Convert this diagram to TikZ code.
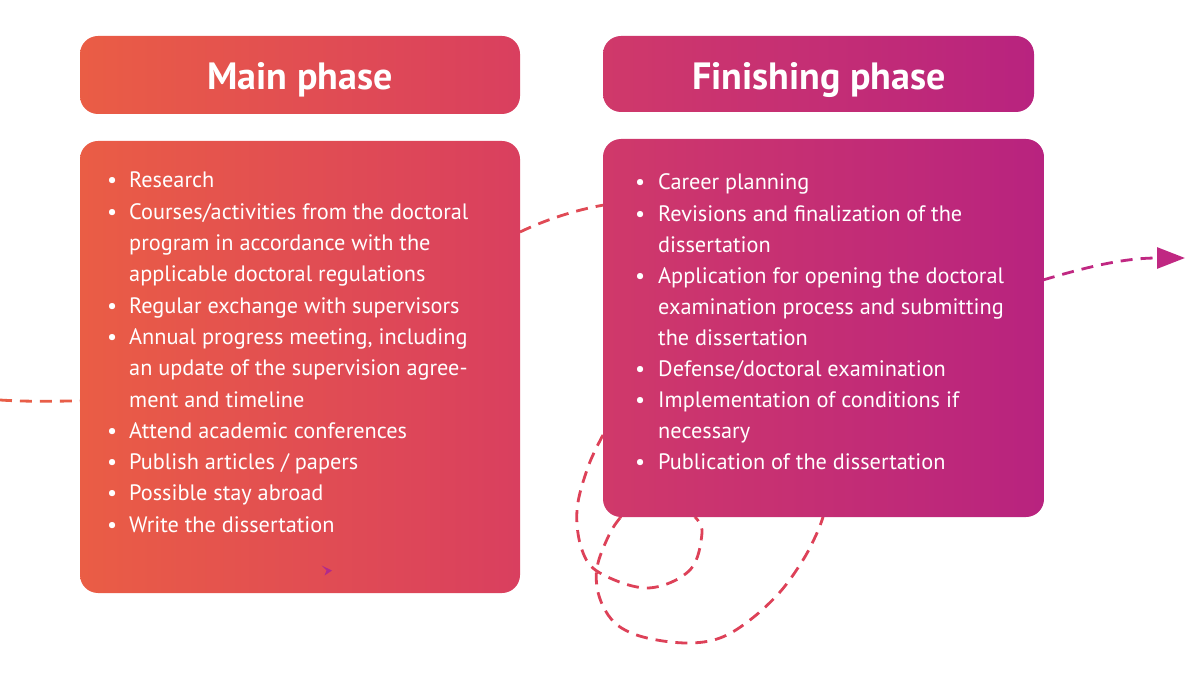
\documentclass[tikz,border=0pt]{standalone}
\usepackage{fontspec}
\setmainfont{PT Sans}
\usetikzlibrary{arrows.meta}
\definecolor{mA}{HTML}{EA5D45}
\definecolor{mB}{HTML}{D93F5F}
\definecolor{fA}{HTML}{D0396A}
\definecolor{fB}{HTML}{B8237F}
\definecolor{dashA}{HTML}{E85E48}
\definecolor{dashB}{HTML}{E04A55}
\definecolor{dashC}{HTML}{DD4158}
\definecolor{dashD}{HTML}{C02882}
\definecolor{tipP}{HTML}{B02A8C}
\begin{document}
\begin{tikzpicture}[x=1pt,y=-1pt,
  panel/.style={rounded corners=18pt, inner sep=0pt, outer sep=0pt, anchor=north west},
  mainfill/.style={left color=mA, right color=mB},
  finfill/.style={left color=fA, right color=fB},
  headtext/.style={text=white, font=\fontsize{38}{42}\selectfont\bfseries, anchor=base, inner sep=0pt},
  listtext/.style={text=white, anchor=base west, inner sep=0pt},
  route/.style={line width=2.8pt, dash pattern=on 12pt off 8pt},
]
\useasboundingbox (0,0) rectangle (1200,676);

% route coordinates
\coordinate (s)  at (0,400);
\coordinate (p1) at (80,401);
\coordinate (p2) at (520,232);
\coordinate (p3) at (604,205);
\coordinate (p4) at (603,435);
\coordinate (p5) at (695,517);
\coordinate (p6) at (620,518);
\coordinate (p7) at (823,517);
\coordinate (p8) at (1043,280);
\coordinate (e)  at (1185,258);

% dashed route (drawn beneath the panels)
\draw[route, dashA] (s) .. controls (30,402) and (55,401) .. (p1);
\draw[route, dashB] (p1) .. controls (300,400) and (380,260) .. (p2);
\draw[route, dashB] (p2) .. controls (545,220) and (575,210) .. (p3);
\draw[route, dashC] (p3) .. controls (700,180) and (640,380) .. (p4);
\draw[route, dashC] plot[smooth, tension=0.6] coordinates {(603,435) (588,467) (577,510) (582,550) (600,573) (648,588) (690,570) (702,533) (695,517)};
\draw[route, dashC] (p5) .. controls (690,490) and (630,490) .. (p6);
\draw[route, dashC] plot[smooth, tension=0.6] coordinates {(620,518) (610,533) (598,563) (597,587) (605,610) (620,627) (647,638) (687,643) (720,638) (750,620) (780,592) (803,560) (817,533) (823,517)};
\draw[route, dashD] (p7) .. controls (850,420) and (950,300) .. (p8);
\draw[route, dashD, -{Triangle[length=28pt,width=21pt]}] (p8) .. controls (1090,266) and (1125,258) .. (e);

% panels
\node[panel, mainfill, minimum width=440pt, minimum height=78pt] (mainhead) at (80,36) {};
\node[panel, mainfill, minimum width=440pt, minimum height=452pt] (mainbox) at (80,141) {};
\node[panel, finfill, minimum width=431pt, minimum height=76pt] (finhead) at (603,36) {};
\node[panel, finfill, minimum width=441pt, minimum height=378pt] (finbox) at (603,139) {};

% stray arrow tip inside the main panel
\fill[tipP] (321.5,565.5) -- (332,570.5) -- (324.5,575.5) -- (326.5,570.5) -- cycle;

% headings
\node[headtext] (mainheadtxt) at (300,90) {Main phase};
\node[headtext] (finheadtxt) at (819,90) {Finishing phase};

% lists
\node[listtext] (mainlist) at (107,188) {\fontsize{22.3}{31.3}\selectfont
\begin{tabular}[t]{@{}p{22pt}@{}l@{}}
\textbullet & Research\\
\textbullet & Courses/activities from the doctoral\\
 & program in accordance with the\\
 & applicable doctoral regulations\\
\textbullet & Regular exchange with supervisors\\
\textbullet & Annual progress meeting, including\\
 & an update of the supervision agree-\\
 & ment and timeline\\
\textbullet & Attend academic conferences\\
\textbullet & Publish articles / papers\\
\textbullet & Possible stay abroad\\
\textbullet & Write the dissertation
\end{tabular}};

\node[listtext] (finlist) at (635,190) {\fontsize{22.3}{31.1}\selectfont
\begin{tabular}[t]{@{}p{23pt}@{}l@{}}
\textbullet & Career planning\\
\textbullet & Revisions and finalization of the\\
 & dissertation\\
\textbullet & Application for opening the doctoral\\
 & examination process and submitting\\
 & the dissertation\\
\textbullet & Defense/doctoral examination\\
\textbullet & Implementation of conditions if\\
 & necessary\\
\textbullet & Publication of the dissertation
\end{tabular}};
\end{tikzpicture}
\end{document}
